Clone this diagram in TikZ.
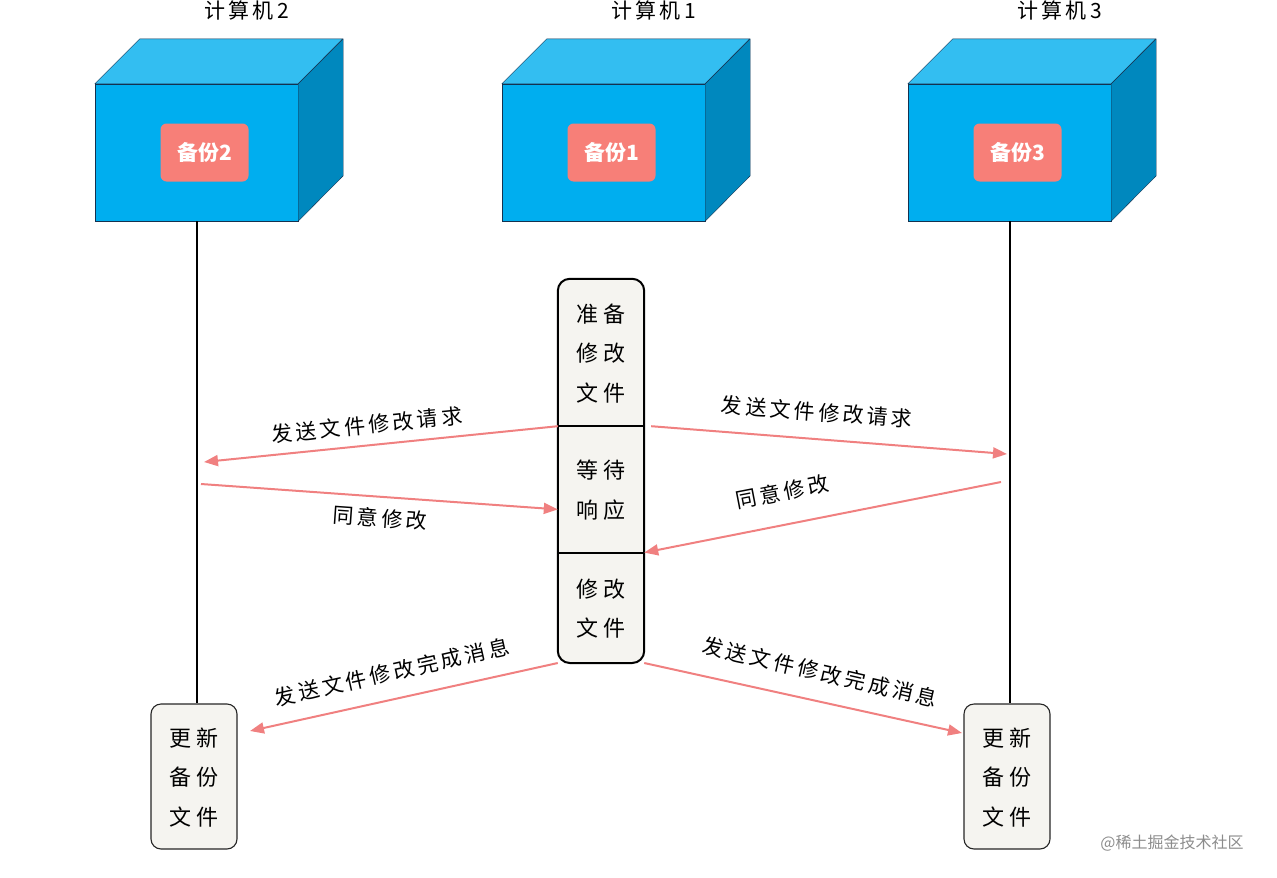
\documentclass[tikz,border=0pt]{standalone}
\usepackage{fontspec}
\setmainfont{Noto Sans CJK SC}
\usepackage{tikz}
\usepackage{xcolor}
\usetikzlibrary{arrows.meta}
\usetikzlibrary{positioning}
\usetikzlibrary{backgrounds}

\definecolor{boxblue}{RGB}{0,174,239}
\definecolor{topblue}{RGB}{51,190,241}
\definecolor{sideblue}{RGB}{0,136,190}
\definecolor{edgeblue}{RGB}{20,50,80}
\definecolor{salmon}{RGB}{247,127,120}
\definecolor{msgred}{RGB}{240,128,128}
\definecolor{paper}{RGB}{245,244,240}

\newcommand\msgfont{\fontsize{21}{24}\selectfont\addfontfeature{LetterSpace=16}}
\newcommand\stagefont{\fontsize{22}{39.5}\selectfont\addfontfeature{LetterSpace=22}}

\begin{document}
\begin{tikzpicture}
    [x=1pt, y=1pt,
     front/.style={rectangle, draw=edgeblue, fill=boxblue, minimum width=203, minimum height=137},
     topface/.style={fill=topblue, draw=edgeblue, line join=round},
     sideface/.style={fill=sideblue, draw=edgeblue, line join=round},
     backup/.style={rectangle, rounded corners=6, fill=salmon, text=white, font=\bfseries\fontsize{21}{24}\selectfont, minimum width=88, minimum height=58},
     pcname/.style={font=\msgfont},
     stage/.style={rectangle, minimum width=86, align=center, font=\stagefont, inner sep=0, text depth=0},
     updbox/.style={rectangle, rounded corners=10, draw=black!85, line width=1.1, fill=paper, minimum width=86, minimum height=145, align=center, font=\stagefont, text depth=0},
     lifeline/.style={line width=2},
     msg/.style={draw=msgred, line width=2, -{Triangle[length=14,width=11]}},
     msglabel/.style={font=\msgfont}]
    \useasboundingbox (0,0) rectangle (1277,-878);

    % three computers
    \foreach \k/\x in {2/196.5,1/603.5,3/1009.5}{
        \node (pc\k) [front] at (\x,-152.5) {};
        \draw[topface] (pc\k.north west) -- ++(45,45) -- ++(203,0) -- (pc\k.north east) -- cycle;
        \draw[sideface] (pc\k.north east) -- ++(45,45) -- ++(0,-137) -- (pc\k.south east) -- cycle;
        \node (bak\k) [backup] at ([xshift=8]pc\k.center) {备份\k};
        \node (name\k) [pcname] at (\x+50,-10) {计算机\k};
    }

    % stages on computer 1
    \node (prep) [stage, minimum height=147] at (601,-352.5) {准备\\修改\\文件};
    \node (wait) [stage, minimum height=126, below=0 of prep] {等待\\响应};
    \node (modify) [stage, minimum height=110, below=0 of wait] {修改\\文件};
    \begin{scope}[on background layer]
        \draw[line width=2, fill=paper, rounded corners=12] (prep.north west) rectangle (modify.south east);
    \end{scope}
    \draw[line width=2] (prep.south west) -- (prep.south east);
    \draw[line width=2] (wait.south west) -- (wait.south east);

    % update boxes
    \node (upd2) [updbox] at (194,-776.5) {更新\\备份\\文件};
    \node (upd3) [updbox] at (1007,-776.5) {更新\\备份\\文件};

    \draw[lifeline] (pc2.south) -- (pc2.south |- upd2.north);
    \draw[lifeline] (pc3.south) -- (pc3.south |- upd3.north);

    % message ends on the lifelines
    \coordinate (req2) at (204,-462);
    \coordinate (req3) at (1007,-454);
    \coordinate (ok2) at (201,-484);
    \coordinate (ok3) at (1001,-482);
    \coordinate (done2) at (250,-731);
    \coordinate (done3) at (962,-733);

    \draw[msg] (prep.south west) -- (req2);
    \draw[msg] ([xshift=7]prep.south east) -- (req3);
    \draw[msg] (ok2) -- ([yshift=-20]wait.west);
    \draw[msg] (ok3) -- (modify.north east);
    \draw[msg] (modify.south west) -- (done2);
    \draw[msg] (modify.south east) -- (done3);

    \node (lreq2) [msglabel, rotate=5.8] at (367,-425) {发送文件修改请求};
    \node (lreq3) [msglabel, rotate=-4.2] at (817,-412) {发送文件修改请求};
    \node (lok2) [msglabel, rotate=-4] at (380,-518) {同意修改};
    \node (lok3) [msglabel, rotate=11] at (782,-492) {同意修改};
    \node (ldone2) [msglabel, rotate=12.7] at (392,-672) {发送文件修改完成消息};
    \node (ldone3) [msglabel, rotate=-13] at (820,-672) {发送文件修改完成消息};

    \node (mark) [font=\fontsize{16}{16}\selectfont, text=black!45] at (1172,-843) {@稀土掘金技术社区};
\end{tikzpicture}
\end{document}
